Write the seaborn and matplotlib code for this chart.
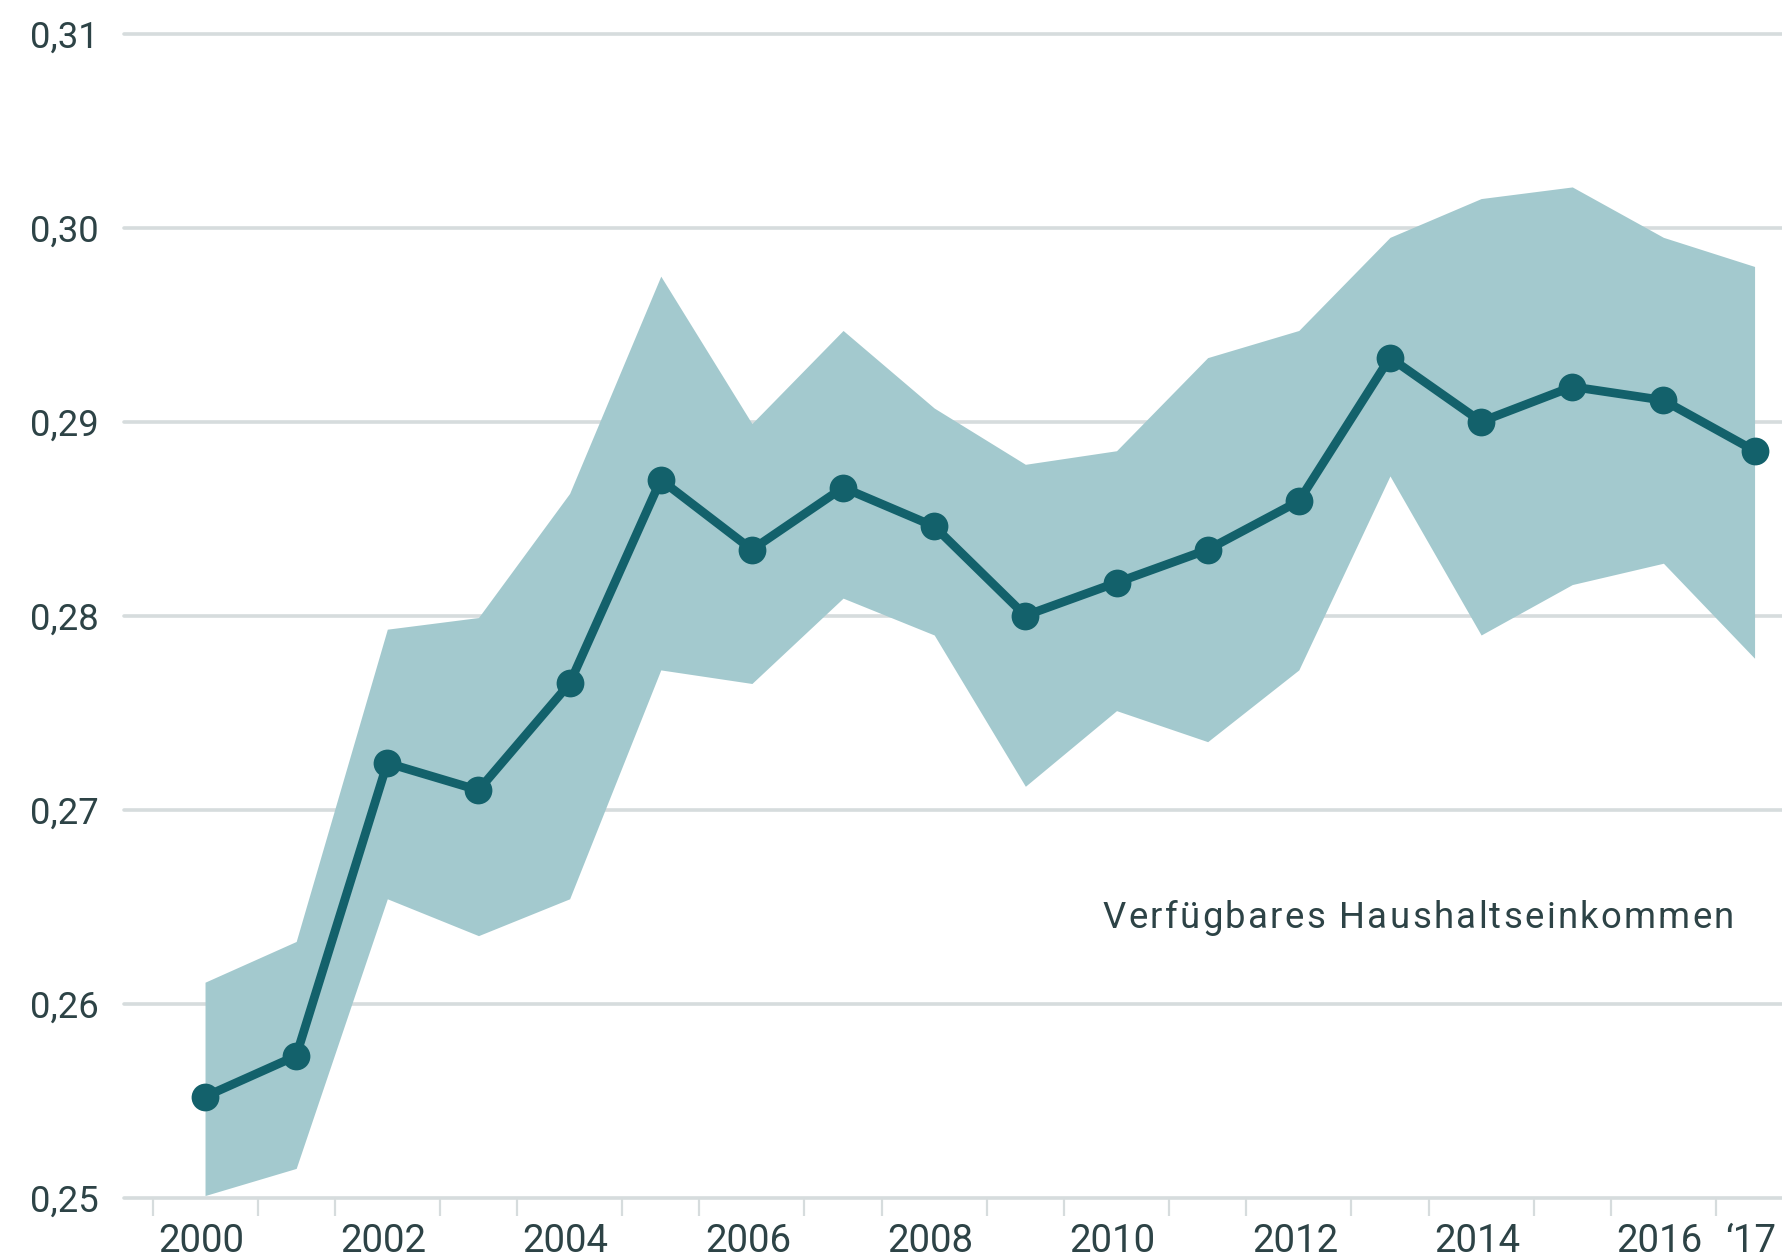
import numpy as np
import pandas as pd
import matplotlib
matplotlib.use("Agg")
import matplotlib.pyplot as plt
import matplotlib.transforms as mtransforms
import seaborn as sns

# Gini-Koeffizient, verfügbares Haushaltseinkommen, mit Konfidenzband
years = list(range(2000, 2018))
gini = [0.2552, 0.2573, 0.2724, 0.2710, 0.2765, 0.2870, 0.2834, 0.2866, 0.2846,
        0.2800, 0.2817, 0.2834, 0.2859, 0.2933, 0.2900, 0.2918, 0.2911, 0.2885]
upper = [0.2611, 0.2632, 0.2793, 0.2799, 0.2863, 0.2975, 0.2899, 0.2947, 0.2907,
         0.2878, 0.2885, 0.2933, 0.2947, 0.2995, 0.3015, 0.3021, 0.2995, 0.2980]
lower = [0.2501, 0.2515, 0.2654, 0.2635, 0.2654, 0.2772, 0.2765, 0.2809, 0.2790,
         0.2712, 0.2751, 0.2735, 0.2772, 0.2872, 0.2790, 0.2816, 0.2827, 0.2778]

y_ticks = [0.25, 0.26, 0.27, 0.28, 0.29, 0.30, 0.31]
y_labels = ["0,25", "0,26", "0,27", "0,28", "0,29", "0,30", "0,31"]
x_ticks = [2000, 2002, 2004, 2006, 2008, 2010, 2012, 2014, 2016, 2017]
x_labels = ["2000", "2002", "2004", "2006", "2008", "2010", "2012", "2014", "2016", "\u201817"]
label = "Verfügbares Haushaltseinkommen"

df = pd.DataFrame({"year": years, "gini": gini, "upper": upper, "lower": lower})

line_col = "#13616b"
band_col = "#a3c9ce"
grid_col = "#d6dcdd"
text_col = "#2d4346"

sns.set_theme(style="white")
plt.rcParams["font.family"] = ["Roboto", "DejaVu Sans"]

W, H = 1783, 1255
fig = plt.figure(figsize=(W / 100, H / 100), dpi=100)
ax = fig.add_axes([124 / W, (H - 1197.5) / H, (W - 124) / W, (1197.5 - 33.7) / H])

ax.fill_between(df["year"], df["lower"], df["upper"], color=band_col, lw=0, zorder=2)
sns.lineplot(data=df, x="year", y="gini", ax=ax, color=line_col, linewidth=6.3,
             marker="o", markersize=20, markeredgewidth=0, markeredgecolor=line_col,
             zorder=3, clip_on=False)

ax.set_xlim(1999.111, 2017.312)
ax.set_ylim(0.25, 0.31)
ax.set_xlabel("")
ax.set_ylabel("")
for s in ax.spines.values():
    s.set_visible(False)

ax.set_yticks(y_ticks, labels=y_labels)
ax.grid(axis="y", color=grid_col, linewidth=2.6)
ax.grid(axis="x", visible=False)
ax.set_axisbelow(True)
for gl in ax.get_ygridlines():
    gl.set_clip_on(False)
ax.tick_params(axis="y", length=0, pad=18, labelsize=26.3, labelcolor=text_col)

ax.set_xticks(x_ticks, labels=x_labels)
minor = [y + d for y in x_ticks[:-1] for d in (-0.576, 0.576)]
ax.set_xticks(minor, minor=True)
ax.tick_params(axis="x", which="major", length=0, pad=18.5, labelsize=27.6, labelcolor=text_col)
ax.tick_params(axis="x", which="minor", length=13, width=1.6, color=grid_col, bottom=True)
shift = mtransforms.ScaledTranslation(-4 / 100, 0, fig.dpi_scale_trans)
for lab in ax.get_xticklabels():
    lab.set_transform(lab.get_transform() + shift)

# letter-spaced annotation
renderer = fig.canvas.get_renderer()
fs = 26.3
widths = []
for ch in label:
    if ch == " ":
        widths.append(0.25 * fs * 100 / 72)
        continue
    t = fig.text(0, 0, ch, fontsize=fs)
    widths.append(t.get_window_extent(renderer).width)
    t.remove()
x0, x1, base = 1102.7, 1734.0, H - 927.7
gap = (x1 - x0 - sum(widths)) / (len(label) - 1)
x = x0
for ch, w in zip(label, widths):
    if ch != " ":
        fig.text(x / W, base / H, ch, fontsize=fs, color=text_col, ha="left", va="baseline")
    x += w + gap

fig.savefig("out.png", dpi=100)
